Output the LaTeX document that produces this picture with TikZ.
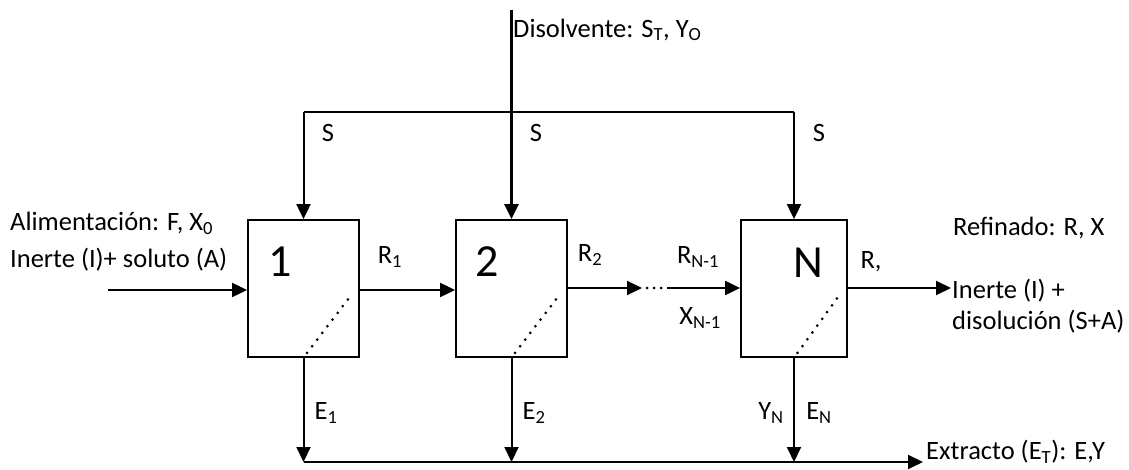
\documentclass[tikz,border=0pt]{standalone}
\usepackage{fontspec}
\setmainfont{Carlito}
\usetikzlibrary{arrows.meta,calc}
\tikzset{
  stagebox/.style={draw, line width=1.8pt, minimum width=111pt, minimum height=137pt, inner sep=0pt},
  flow/.style={line width=2pt, -{Triangle[length=15pt,width=14pt]}},
  plain/.style={line width=2pt},
  feedline/.style={line width=2.8pt, -{Triangle[length=15pt,width=14pt]}},
  dotline/.style={line width=3pt, line cap=round, dash pattern=on 0pt off 8.4pt},
  gapdots/.style={line width=3pt, line cap=round, dash pattern=on 0pt off 7pt},
  lbl/.style={font=\fontsize{26.5}{31}\selectfont, inner sep=0pt},
  big/.style={font=\fontsize{46}{52}\selectfont, inner sep=0pt}
}
\begin{document}
\begin{tikzpicture}[x=1pt,y=-1pt]
\useasboundingbox (0,0) rectangle (1129,470);
% stages
\node[stagebox] (b1) at (303.5,288.5) {};
\node[stagebox] (b2) at (511.5,288.5) {};
\node[stagebox, minimum width=106pt] (bN) at (794,288.5) {};
\node[big] (n1) at (280,262) {1};
\node[big] (n2) at (487,262) {2};
\node[big] (nN) at (808,263) {N};
% solvent
\coordinate (top) at (511.5,10);
\coordinate (d1) at (303.5,112);
\coordinate (dN) at (794,112);
\draw[feedline] (top) -- (b2.north);
\draw[plain] (d1) -- (dN);
\draw[flow] (d1) -- (b1.north);
\draw[flow] (dN) -- (bN.north);
\node[lbl, anchor=west] (dis) at (513,30) {Disolvente: S\textsubscript{T}, Y\textsubscript{O}};
\node[lbl] (s1) at (328,133) {S};
\node[lbl] (s2) at (536,133) {S};
\node[lbl] (sN) at (819,133) {S};
% feed
\coordinate (f) at (108,290);
\draw[flow] (f) -- (b1.west |- f);
\node[lbl, anchor=west] (ali) at (10,223) {Alimentación: F, X\textsubscript{0}};
\node[lbl, anchor=west] (ine) at (10,260) {Inerte (I)+ soluto (A)};
% forward flow
\draw[flow] (b1.east |- f) -- (b2.west |- f);
\coordinate (da) at (642,288);
\coordinate (db) at (667,288);
\draw[flow] (b2.east |- da) -- (da);
\draw[gapdots] ($(da)+(5,0)$) -- (db);
\draw[flow] (db) -- (bN.west |- db);
\coordinate (out) at (951,288);
\draw[flow] (bN.east |- out) -- (out);
\node[lbl] (r1) at (390,257) {R\textsubscript{1}};
\node[lbl] (r2) at (590,255) {R\textsubscript{2}};
\node[lbl] (rn1) at (698,257) {R\textsubscript{N-1}};
\node[lbl] (xn1) at (700,318) {X\textsubscript{N-1}};
\node[lbl] (rc) at (871,262) {R,};
\node[lbl, anchor=west] (ref) at (953,228) {Refinado: R, X};
\node[lbl, anchor=west] (io) at (952,291) {Inerte (I) +};
\node[lbl, anchor=west] (dso) at (952,322) {disolución (S+A)};
% inner dotted separators
\foreach \b in {b1,b2,bN}{
  \draw[dotline] ($(\b.south)+(3.5,-5)$) -- ($(\b.east)+(-7,4.5)$);
}
% extract
\coordinate (e1) at (303.5,462);
\coordinate (e2) at (511.5,462);
\coordinate (eN) at (794,462);
\coordinate (eout) at (923,462);
\draw[flow] (b1.south) -- (e1);
\draw[flow] (b2.south) -- (e2);
\draw[flow] (bN.south) -- (eN);
\draw[flow] (e1) -- (eout);
\node[lbl] (le1) at (326,413) {E\textsubscript{1}};
\node[lbl] (le2) at (534,413) {E\textsubscript{2}};
\node[lbl] (leN) at (819,413) {E\textsubscript{N}};
\node[lbl] (lyN) at (771,413) {Y\textsubscript{N}};
\node[lbl, anchor=west] (ext) at (926,452) {Extracto (E\textsubscript{T}): E,Y};
\end{tikzpicture}
\end{document}
